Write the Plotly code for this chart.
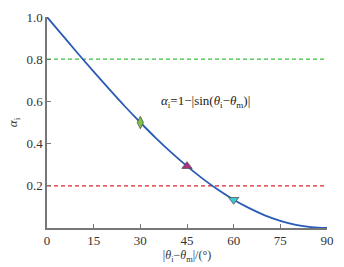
import plotly.graph_objects as go

# Data
theta = [0, 5, 10, 15, 20, 25, 30, 35, 40, 45, 50, 55, 60, 65, 70, 75, 80, 85, 90]
alpha = [1.0, 0.913, 0.826, 0.741, 0.658, 0.577, 0.5, 0.426, 0.357, 0.293,
         0.234, 0.181, 0.134, 0.094, 0.060, 0.034, 0.015, 0.004, 0.0]
mark_x = [30, 45, 60]
mark_y = [0.5, 0.293, 0.134]
mark_symbols = ["diamond-tall", "triangle-up", "triangle-down"]
mark_sizes = [9, 9, 9]
mark_colors = ["#7cc443", "#a8327f", "#3cc6d6"]
ref_levels = [0.8, 0.2]
ref_colors = ["#3cbf3c", "#d8262c"]
x_ticks = [0, 15, 30, 45, 60, 75, 90]
y_ticks = [0.2, 0.4, 0.6, 0.8, 1.0]
y_ticklabels = ["0.2", "0.4", "0.6", "0.8", "1.0"]

font = "Times New Roman, Liberation Serif, serif"

fig = go.Figure()
for lvl, col in zip(ref_levels, ref_colors):
    fig.add_trace(go.Scatter(x=[0, 90], y=[lvl, lvl], mode="lines",
                             line=dict(color=col, width=1.2, dash="4px,3px"),
                             hoverinfo="skip", showlegend=False))
fig.add_trace(go.Scatter(x=theta, y=alpha, mode="lines",
                         line=dict(color="#2b5cb5", width=1.8, shape="spline"),
                         showlegend=False))
for x, y, s, sz, c in zip(mark_x, mark_y, mark_symbols, mark_sizes, mark_colors):
    fig.add_trace(go.Scatter(x=[x], y=[y], mode="markers",
                             marker=dict(symbol=s, size=sz, color=c,
                                         line=dict(color="#555555", width=0.8)),
                             showlegend=False))

fig.add_annotation(x=51, y=0.6, xref="x", yref="y", showarrow=False,
                   text="<i>α</i><sub>i</sub>=1−|sin(<i>θ</i><sub>i</sub>−<i>θ</i><sub>m</sub>)|",
                   font=dict(family=font, size=13, color="#222"))

fig.update_layout(
    width=344, height=267,
    margin=dict(l=47, r=13, t=10, b=39),
    plot_bgcolor="white", paper_bgcolor="white",
    font=dict(family=font, size=13, color="#333"),
    xaxis=dict(range=[0, 90], tickvals=x_ticks, showgrid=False, zeroline=False,
               showline=True, linecolor="#777", linewidth=1.5,
               ticks="inside", ticklen=4, tickcolor="#777",
               tickfont=dict(family=font, size=13),
               title=dict(text="|<i>θ</i><sub>i</sub>−<i>θ</i><sub>m</sub>|/(°)",
                          font=dict(family=font, size=12), standoff=0)),
    yaxis=dict(range=[0, 1.0], tickvals=y_ticks, ticktext=y_ticklabels,
               showgrid=False, zeroline=False,
               showline=True, linecolor="#777", linewidth=1.5,
               ticks="inside", ticklen=4, tickcolor="#777",
               tickfont=dict(family=font, size=13),
               title=dict(text="<i>α</i><sub>i</sub>", font=dict(family=font, size=13), standoff=6)),
)

fig.write_html("out.html")
